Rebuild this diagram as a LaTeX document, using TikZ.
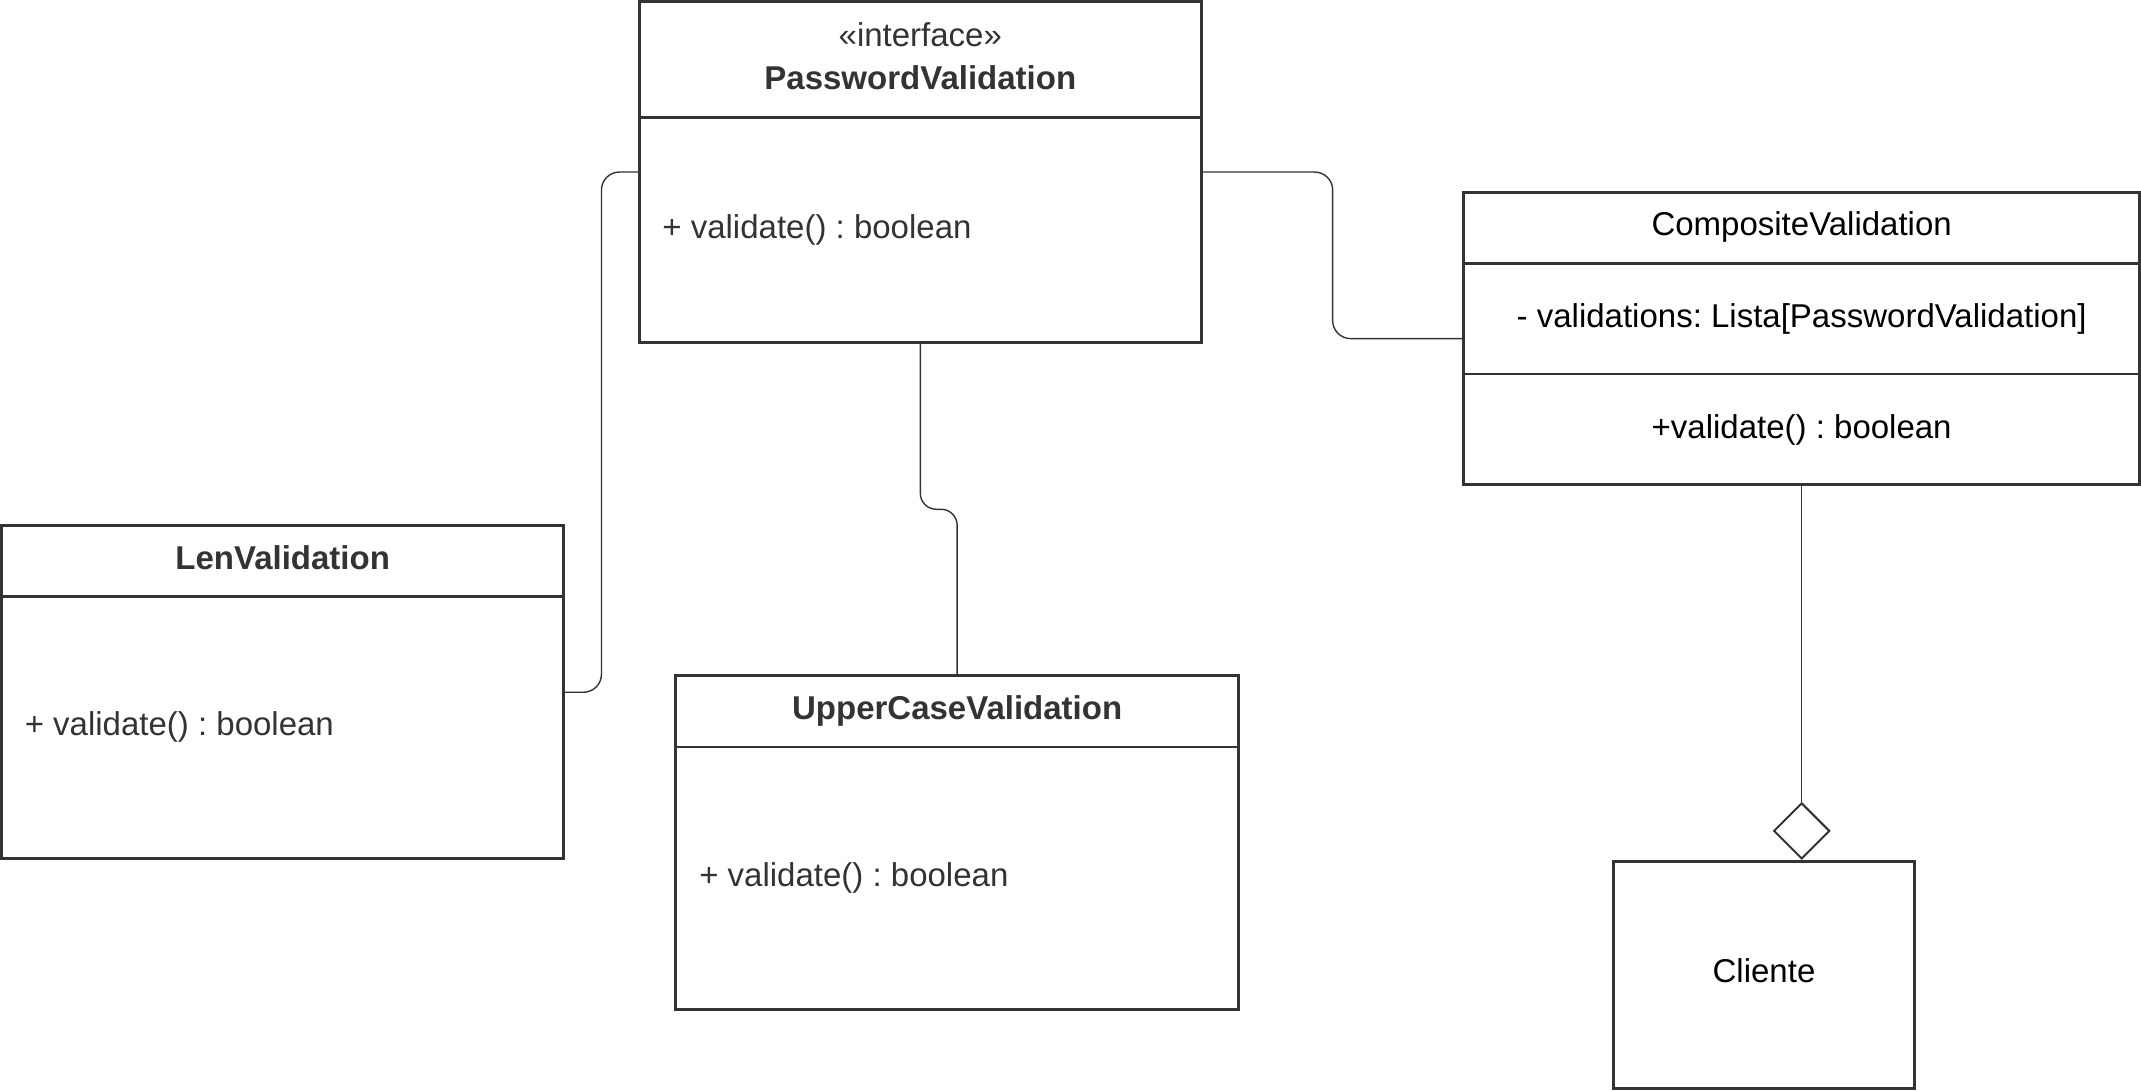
\documentclass[tikz,border=0pt]{standalone}
\usepackage{fontspec}
\setmainfont{Liberation Sans}
\usetikzlibrary{calc,shapes.geometric}
\definecolor{ink}{HTML}{333333}
\frenchspacing

\begin{document}
\begin{tikzpicture}[x=1pt,y=-1pt,
    box/.style={draw=ink,line width=3pt,rectangle,anchor=north west,inner sep=0pt,outer sep=0pt},
    sep/.style={draw=ink,line width=2.6pt},
    txt/.style={inner sep=0pt,anchor=base,text=ink,font=\fontsize{33}{40}\selectfont},
    cname/.style={txt,font=\fontsize{33}{40}\selectfont\bfseries},
    op/.style={txt,anchor=base west},
    conn/.style={draw=ink,line width=1.4pt,rounded corners=18pt}]
     \useasboundingbox (0,0) rectangle (2141,1091);
     % class boxes
     \node[box,minimum width=562.6pt,minimum height=341.3pt] (pv) at (639,1.4) {};
     \node[box,minimum width=675.9pt,minimum height=292.2pt] (comp) at (1463.7,192.5) {};
     \node[box,minimum width=562.5pt,minimum height=333.1pt] (len) at (1.4,525.7) {};
     \node[box,minimum width=562.5pt,minimum height=333.1pt] (upper) at (675.9,675.9) {};
     \node[box,minimum width=300.4pt,minimum height=226.6pt] (cliente) at (1613.9,861.6) {};
     % compartments
     \draw[sep] (pv.west |- 0,117.4) -- (pv.east |- 0,117.4);
     \draw[sep] (comp.west |- 0,263.5) -- (comp.east |- 0,263.5);
     \draw[sep] (comp.west |- 0,374.1) -- (comp.east |- 0,374.1);
     \draw[sep] (len.west |- 0,596.7) -- (len.east |- 0,596.7);
     \draw[sep] (upper.west |- 0,746.9) -- (upper.east |- 0,746.9);
     % texts
     \node[txt] (pvstereo) at (pv.north |- 0,46.5) {«interface»};
     \node[cname] (pvname) at (pv.north |- 0,90) {PasswordValidation};
     \node[op] (pvop) at (662.2,238.5) {+ validate() : boolean};
     \node[txt,text=black] (compname) at (comp.north |- 0,236) {CompositeValidation};
     \node[txt,text=black] (compattr) at (comp.north |- 0,327.4) {- validations: Lista[PasswordValidation]};
     \node[txt,text=black] (compop) at (comp.north |- 0,438) {+validate() : boolean};
     \node[cname] (lenname) at (len.north |- 0,569.3) {LenValidation};
     \node[op] (lenop) at (24.6,735.5) {+ validate() : boolean};
     \node[cname] (uppername) at (upper.north |- 0,719.3) {UpperCaseValidation};
     \node[op] (upperop) at (699.1,886) {+ validate() : boolean};
     \node[txt,text=black] (clientename) at (1764,982.8) {Cliente};
     % aggregation diamond
     \node[diamond,draw=ink,line width=2pt,fill=white,minimum width=56pt,minimum height=56pt,inner sep=0pt] (agg) at (comp.south |- 0,830.9) {};
     % connectors
     \coordinate (lenjog) at ($(len.east)!0.5!(pv.west)$);
     \coordinate (compjog) at ($(pv.east)!0.5!(comp.west)$);
     \coordinate (upperjog) at ($(pv.south)!0.5!(upper.north)$);
     \draw[conn] (len.east) -- (lenjog |- len.east) -- (lenjog |- pv.west) -- (pv.west);
     \draw[conn] (pv.east) -- (compjog |- pv.east) -- (compjog |- comp.west) -- (comp.west);
     \draw[conn,rounded corners=16pt] (pv.south) -- (pv.south |- upperjog) -- (upper.north |- upperjog) -- (upper.north);
     \draw[conn] (comp.south) -- (agg.north);
\end{tikzpicture}
\end{document}
